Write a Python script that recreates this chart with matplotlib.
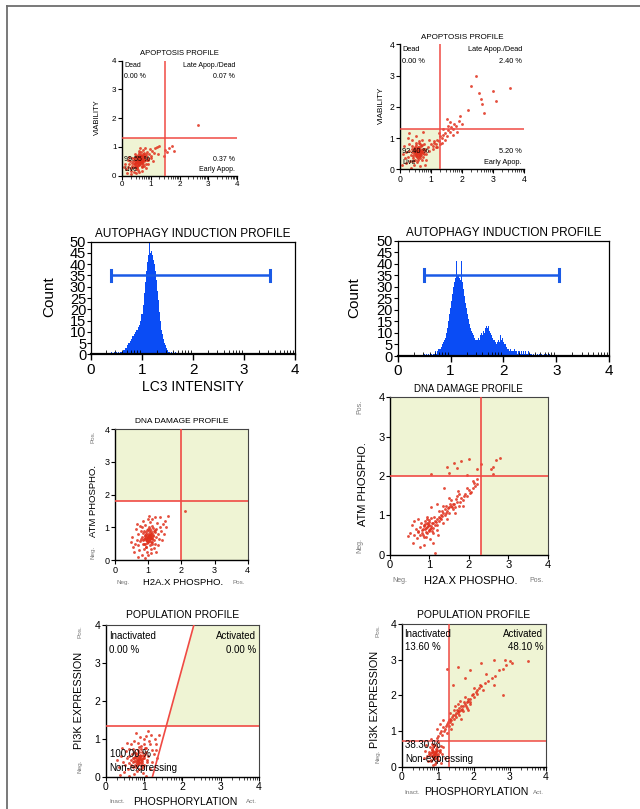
import matplotlib
matplotlib.use('Agg')
import matplotlib.pyplot as plt
import numpy as np
from matplotlib.patches import Polygon, Rectangle
from matplotlib.lines import Line2D

plt.rcParams['font.family'] = ['Liberation Sans', 'DejaVu Sans']

# ---------------- DATA ----------------
# Apoptosis profile (left)
apo1_x = [0.60,0.55,0.65,0.70,0.50,0.62,0.58,0.72,0.45,0.68,0.52,0.63,0.75,0.48,0.57,0.66,0.80,0.40,0.53,0.77,
          0.85,0.35,0.44,0.61,0.90,0.30,0.47,0.72,0.95,0.38,0.25,0.55,0.82,0.68,0.88,0.42,1.00,0.20,0.33,0.78,
          0.92,0.50,0.65,1.05,0.15,0.28,0.60,0.85,1.10,0.40,0.73,0.97,0.22,0.35,0.12,0.45,1.15,0.80,0.58,1.02,
          0.18,0.30,0.50,0.70,0.90,1.20,0.08,0.25,0.62,1.08,0.54,0.64,0.59,0.67,0.49,0.71,0.56,0.74,0.46,0.81,
          0.58,0.62,0.66,0.52,0.56,0.70,0.74,0.48,0.64,0.60,0.68,0.54,0.78,0.44,0.72,0.50,0.57,0.63,0.69,0.61,
          0.36,0.42,0.86,0.83,0.76,0.66,0.53,0.47,0.59,0.71,
          1.50,1.58,1.62,1.75,1.80,1.45,2.65,1.30,1.25]
apo1_y = [0.50,0.45,0.55,0.52,0.48,0.40,0.60,0.62,0.42,0.45,0.55,0.63,0.58,0.35,0.38,0.68,0.65,0.40,0.30,0.50,
          0.70,0.35,0.52,0.72,0.62,0.28,0.25,0.75,0.75,0.50,0.40,0.20,0.42,0.30,0.82,0.62,0.70,0.30,0.18,0.35,
          0.55,0.68,0.82,0.85,0.22,0.50,0.12,0.28,0.80,0.12,0.88,0.92,0.55,0.62,0.40,0.75,0.95,0.95,0.85,0.60,
          0.10,0.05,0.08,0.18,0.40,1.00,0.30,0.65,0.95,0.50,0.52,0.48,0.57,0.60,0.43,0.57,0.65,0.69,0.58,0.56,
          0.47,0.53,0.50,0.50,0.42,0.48,0.55,0.47,0.60,0.38,0.68,0.62,0.72,0.45,0.40,0.33,0.73,0.55,0.52,0.45,
          0.45,0.30,0.55,0.75,0.78,0.72,0.27,0.65,0.78,0.35,
          0.90,0.82,0.95,1.05,0.85,0.70,1.75,1.02,0.75]
apo1_gate = (1.5, 1.3)
apo1_labels = ["Dead", "0.00 %", "Late Apop./Dead", "0.07 %", "99.55 %", "Live", "0.37 %", "Early Apop."]

# Apoptosis profile (right)
apo2_x = [0.55,0.60,0.50,0.65,0.45,0.58,0.52,0.68,0.62,0.40,0.70,0.48,0.35,0.75,0.57,0.42,0.80,0.30,0.64,0.50,
          0.85,0.25,0.72,0.38,0.90,0.20,0.55,0.78,0.33,0.95,0.15,0.60,0.45,1.00,0.10,0.28,0.85,0.70,0.18,1.05,
          0.40,0.65,0.92,0.08,0.25,1.10,0.80,0.12,0.50,0.35,0.53,0.61,0.57,0.47,0.66,0.54,0.63,0.44,0.72,0.58,
          0.52,0.59,0.63,0.49,0.56,0.67,0.71,0.46,0.60,0.55,0.64,0.51,0.74,0.43,0.69,0.48,0.58,0.62,0.66,0.53,
          0.38,0.41,0.82,0.79,0.73,0.61,0.50,0.45,0.57,0.70,
          0.75,0.30,1.15,
          1.05,1.10,1.15,1.20,1.25,1.30,1.35,1.40,1.45,1.50,1.55,1.60,1.65,1.70,1.75,1.80,1.85,1.90,1.40,1.55,
          1.25,1.60,1.70,1.35,2.00,1.95,1.50,1.20,1.30,1.45,
          2.45,2.30,2.55,3.00,3.10,3.55,2.65,2.70,2.20,2.60]
apo2_y = [0.55,0.50,0.60,0.58,0.48,0.65,0.42,0.45,0.70,0.55,0.62,0.70,0.45,0.52,0.35,0.35,0.65,0.60,0.80,0.78,
          0.50,0.40,0.30,0.75,0.72,0.55,0.22,0.82,0.25,0.60,0.35,0.92,0.15,0.80,0.50,0.80,0.30,0.95,0.20,0.65,
          0.95,0.10,0.95,0.15,1.00,0.90,0.15,0.75,1.05,0.05,0.53,0.57,0.47,0.57,0.66,0.62,0.42,0.63,0.56,0.58,
          0.50,0.52,0.48,0.62,0.40,0.52,0.60,0.55,0.62,0.68,0.36,0.45,0.66,0.43,0.75,0.30,0.72,0.44,0.56,0.58,
          0.65,0.28,0.58,0.48,0.40,0.85,0.85,0.68,0.30,0.78,
          1.20,1.15,0.70,
          0.75,0.85,0.80,0.95,0.90,1.05,1.00,1.10,1.15,1.05,1.25,1.20,1.35,1.30,1.45,1.40,1.20,1.55,1.30,1.40,
          1.15,1.50,1.10,0.85,1.45,1.70,1.60,0.70,0.80,0.95,
          3.00,2.65,2.45,2.50,2.20,2.60,2.10,1.80,1.90,2.25]
apo2_gate = (1.3, 1.3)
apo2_labels = ["Dead", "0.00 %", "Late Apop./Dead", "2.40 %", "92.40 %", "Live", "5.20 %", "Early Apop."]

# Autophagy histograms (LC3 intensity), bin width 0.02
hist_width = 0.02
hist1_start = 0.40
hist1_counts = [1,0,0,1,0,1,0,1,0,1,
                1,1,2,2,3,3,4,5,5,6,
                7,8,8,9,10,11,11,12,13,15,
                18,22,27,32,37,41,44,52,45,46,
                44,42,40,37,33,28,24,19,15,11,
                9,7,5,4,3,2,1,1,0,1,
                0,1,0,1,0,0]
hist1_marker = (0.40, 3.50, 35)
hist2_start = 0.40
hist2_counts = [0,0,0,0,0,
                1,0,1,0,1,0,1,1,0,1,
                1,2,1,2,3,3,4,5,6,7,
                8,10,12,15,18,21,24,27,30,32,
                34,41,35,34,33,41,32,29,26,23,
                21,18,16,14,12,11,10,9,8,7,
                7,8,7,9,10,9,11,10,12,13,
                12,13,11,10,9,8,7,6,5,6,
                7,6,9,7,8,6,5,5,4,3,
                3,2,3,2,2,3,2,2,1,2,
                2,1,2,1,2,1,2,1,1,2,
                1,1,0,1,0,1,0,1,0,1,
                0,1,0,0,1,0,1,0,1,0,
                0]
hist2_marker = (0.50, 3.05, 35)

# DNA damage (left)
dna1_x = [1.00,0.95,1.05,1.10,0.90,1.02,0.98,1.12,0.85,1.08,0.92,1.03,1.15,0.88,0.97,1.06,1.20,0.80,0.93,1.17,
          1.25,0.75,0.84,1.01,1.30,0.70,0.87,1.12,1.35,0.78,0.65,0.95,1.22,1.08,1.28,0.82,1.40,0.60,0.73,1.18,
          1.32,0.90,1.05,1.45,0.55,0.68,1.00,1.25,1.50,0.80,1.13,1.37,0.62,0.75,0.52,0.85,1.55,1.20,0.98,1.42,
          0.58,0.70,0.90,1.10,1.30,1.60,0.48,0.65,1.02,1.48,0.99,1.04,0.96,1.07,0.94,1.09,1.01,0.93,1.13,0.97,
          0.98,1.03,1.07,0.91,0.96,1.11,1.14,0.89,1.04,0.99,1.09,0.94,1.18,0.86,1.13,0.90,0.97,1.05,1.10,1.01,
          0.78,0.83,1.24,1.21,1.16,1.06,0.93,0.87,0.99,1.12,
          2.12]
dna1_y = [0.70,0.65,0.75,0.68,0.72,0.60,0.80,0.82,0.62,0.55,0.85,0.88,0.72,0.50,0.52,0.95,0.85,0.70,0.40,0.60,
          0.95,0.58,0.82,1.00,0.80,0.45,0.35,1.05,1.00,0.90,0.62,0.25,0.48,0.35,1.12,1.00,0.90,0.50,0.30,0.38,
          0.65,1.08,1.15,1.10,0.40,0.80,0.15,0.25,1.20,0.15,1.25,1.30,0.95,1.05,0.70,1.20,1.00,1.30,1.25,0.60,
          0.25,0.10,0.05,0.20,0.45,1.35,0.55,1.10,1.35,0.80,0.69,0.72,0.74,0.66,0.61,0.78,0.77,0.68,0.64,0.58,
          0.66,0.73,0.70,0.75,0.60,0.68,0.76,0.67,0.82,0.55,0.88,0.78,0.90,0.63,0.55,0.50,0.92,0.64,0.72,0.58,
          0.65,0.48,0.70,0.92,0.98,0.45,0.40,0.88,0.95,0.50,
          1.50]
dna1_gate = (2.0, 1.8)

# DNA damage (right)
dna2_x = [0.95,0.90,1.00,1.05,0.85,0.98,0.93,1.10,0.80,1.08,0.88,1.00,1.15,0.83,0.75,1.20,0.70,1.12,0.78,0.65,
          0.60,1.25,0.92,1.18,0.72,0.55,1.02,1.30,0.68,0.50,1.08,1.15,0.85,0.62,0.45,1.22,0.75,0.95,1.35,0.58,
          0.92,0.97,1.02,0.87,0.91,1.05,1.10,0.83,1.00,0.95,1.03,0.89,1.13,0.80,1.07,0.86,0.93,0.99,1.06,0.96,
          0.72,0.77,1.20,1.17,1.24,1.28,1.33,1.43,1.48,1.58,1.63,1.68,1.78,1.88,2.02,2.12,1.52,1.42,1.32,1.72,
          1.30,1.35,1.40,1.40,1.45,1.50,1.50,1.55,1.60,1.60,1.65,1.70,1.75,1.80,1.85,1.90,1.95,2.00,2.05,2.10,
          2.15,2.20,2.20,2.10,1.95,1.70,1.55,1.45,1.25,1.35,1.65,1.85,1.75,1.50,1.38,1.05,1.20,
          1.05,1.45,1.50,1.70,1.80,1.95,2.00,2.20,2.30,2.55,2.60,2.70,2.80,2.62,1.62]
dna2_y = [0.70,0.65,0.75,0.68,0.72,0.60,0.80,0.80,0.62,0.55,0.85,0.88,0.75,0.50,0.70,0.90,0.58,0.95,0.80,0.65,
          0.50,0.85,0.45,0.62,0.90,0.75,0.40,1.00,0.42,0.55,0.30,0.05,0.25,0.85,0.48,0.50,0.20,0.95,0.80,0.30,
          0.68,0.72,0.65,0.75,0.58,0.72,0.68,0.66,0.82,0.55,0.92,0.78,0.85,0.55,0.60,0.45,0.90,0.62,0.80,0.78,
          0.60,0.50,0.75,0.82,0.95,0.92,1.12,1.05,1.18,1.22,1.28,1.42,1.35,1.48,1.58,1.82,1.30,1.25,0.98,1.62,
          0.90,1.05,1.00,1.15,1.10,1.20,1.05,1.25,1.15,1.30,1.20,1.35,1.25,1.45,1.40,1.55,1.50,1.65,1.60,1.70,
          1.75,1.80,1.92,1.88,1.70,1.50,1.40,0.90,1.10,1.25,1.05,1.25,1.55,1.45,1.70,1.20,1.30,
          2.05,2.22,2.08,2.20,2.38,2.02,2.42,2.18,2.30,2.18,2.22,2.40,2.45,2.05,2.32]
dna2_gate = (2.3, 2.0)

# Population profile (left)
pop1_x = [0.85,0.80,0.90,0.95,0.75,0.88,0.83,0.98,0.70,0.93,0.78,0.87,1.00,0.72,0.65,1.05,0.60,1.02,0.68,0.55,
          0.50,1.10,0.82,1.08,0.62,0.45,0.92,1.15,0.58,0.40,0.98,1.05,0.75,0.52,0.35,1.12,0.65,0.85,1.20,0.48,
          1.00,1.18,1.10,0.90,0.75,1.25,1.30,0.42,0.55,1.22,1.35,0.38,0.62,0.95,1.15,0.30,1.05,0.80,1.28,0.70,
          0.84,0.89,0.82,0.92,0.86,0.79,0.91,0.76,0.97,0.81,
          0.83,0.88,0.92,0.77,0.81,0.96,1.00,0.73,0.90,0.85,0.94,0.79,1.03,0.70,0.97,0.76,0.83,0.89,0.95,0.86,
          0.62,0.67,1.08,1.06,1.00,0.93,0.80,0.74,0.87,1.01,
          1.40,1.32]
pop1_y = [0.45,0.40,0.50,0.42,0.48,0.35,0.55,0.58,0.38,0.30,0.62,0.65,0.48,0.25,0.45,0.65,0.35,0.75,0.60,0.50,
          0.30,0.55,0.15,0.38,0.72,0.40,0.80,0.85,0.20,0.55,0.10,0.02,0.08,0.68,0.25,0.95,0.85,0.90,0.70,0.12,
          1.00,1.10,1.20,1.05,0.95,0.60,0.85,0.75,0.90,0.40,0.50,0.05,0.02,0.22,0.20,0.45,1.08,1.15,1.00,0.72,
          0.44,0.47,0.50,0.40,0.38,0.45,0.55,0.52,0.50,0.32,
          0.42,0.48,0.45,0.52,0.36,0.46,0.55,0.42,0.58,0.33,0.65,0.60,0.60,0.50,0.28,0.30,0.70,0.55,0.35,0.20,
          0.55,0.30,0.45,0.75,0.85,0.72,0.25,0.65,0.78,0.32,
          1.10,0.70]
pop1_hgate = 1.33
pop1_diag = ((1.22, 0.0), (2.30, 4.0))
pop1_labels = ["Inactivated", "0.00 %", "Activated", "0.00 %", "100.00 %", "Non-expressing"]

# Population profile (right)
pop2_x = [0.90,0.85,0.95,0.88,0.82,0.93,0.98,0.80,1.00,0.87,0.75,1.05,0.92,0.78,0.95,1.08,0.70,1.12,0.83,0.65,
          1.02,0.72,0.88,1.15,0.68,1.20,0.98,0.80,1.10,0.62,0.90,0.86,0.94,0.89,0.84,0.96,
          0.88,0.92,0.96,0.83,0.86,1.00,1.04,0.79,0.94,0.90,0.98,0.84,1.07,0.76,1.02,0.81,0.87,0.93,0.99,0.91,
          1.18,1.22,1.28,1.33,1.37,1.43,1.48,1.53,1.58,1.63,1.68,1.73,1.78,1.83,1.88,1.98,2.08,2.18,1.47,1.57,
          1.00,1.05,1.10,1.15,1.12,1.20,1.25,1.30,1.30,1.35,1.40,1.40,1.45,1.50,1.50,1.55,1.60,1.60,1.65,1.70,
          1.70,1.75,1.80,1.80,1.85,1.90,1.90,1.95,2.00,2.05,2.10,2.15,2.20,2.25,2.30,2.40,2.50,2.60,2.70,2.80,
          2.90,3.00,1.35,1.55,1.45,1.65,1.75,1.85,2.00,1.25,1.15,1.05,0.98,1.38,1.62,2.35,2.55,
          3.50,2.80,1.25,1.55,1.90,2.20,2.55,2.85,3.05,1.75,1.42]
pop2_y = [0.35,0.30,0.40,0.45,0.38,0.25,0.48,0.20,0.30,0.55,0.40,0.42,0.60,0.55,0.12,0.58,0.30,0.35,0.65,0.45,
          0.70,0.15,0.05,0.55,0.62,0.25,0.80,0.78,0.10,0.25,0.33,0.42,0.36,0.28,0.48,0.45,
          0.32,0.38,0.33,0.42,0.27,0.37,0.45,0.32,0.50,0.22,0.55,0.50,0.48,0.35,0.18,0.15,0.60,0.42,0.25,0.08,
          1.00,1.15,1.25,1.35,1.30,1.45,1.45,1.60,1.55,1.70,1.62,1.80,1.70,1.90,1.82,2.05,2.15,2.30,1.70,1.50,
          0.85,0.95,1.00,1.10,0.90,1.05,1.20,1.15,1.30,1.25,1.40,1.20,1.35,1.50,1.40,1.55,1.45,1.65,1.60,1.70,
          1.55,1.75,1.80,1.65,1.85,1.90,1.75,2.00,1.95,2.10,2.05,2.20,2.25,2.15,2.35,2.40,2.50,2.55,2.70,2.75,
          2.85,2.95,1.50,1.75,1.60,1.35,1.95,1.60,2.20,0.95,1.30,1.20,1.05,1.05,1.85,2.60,2.30,
          2.95,2.00,2.75,2.80,2.70,2.90,3.00,3.00,2.90,2.50,2.30]
pop2_gate = (1.3, 0.72)
pop2_labels = ["Inactivated", "13.60 %", "Activated", "48.10 %", "38.30 %", "Non-expressing"]

# ---------------- STYLE ----------------
RED = '#f04a44'
DOT = '#e0301c'
FILL = '#eff4d4'
BLUE = '#0a4cf5'
BAR = '#1a5ae6'
GRAYTXT = '#777777'
DOT_S = 4.2

W, H = 640, 809
fig = plt.figure(figsize=(6.4, 8.09), dpi=100)

def rect(x0, x1, ytop, ybot):
    return [x0 / W, 1 - ybot / H, (x1 - x0) / W, (ybot - ytop) / H]

# page border
fig.add_artist(Line2D([6.5 / W, 6.5 / W], [0, 1 - 6 / H], transform=fig.transFigure, color='#6e6e6e', lw=1.3))
fig.add_artist(Line2D([6.5 / W, 1], [1 - 6 / H, 1 - 6 / H], transform=fig.transFigure, color='#6e6e6e', lw=1.3))

log_minor = [i + np.log10(k) for i in range(4) for k in range(2, 10)]

def base_axes(r, fs, box=True, minor=True, tl=3):
    ax = fig.add_axes(r)
    ax.set_xlim(0, 4)
    ax.set_ylim(0, 4)
    ax.set_xticks([0, 1, 2, 3, 4])
    ax.set_yticks([0, 1, 2, 3, 4])
    ax.tick_params(labelsize=fs, length=tl, width=0.8, pad=1)
    if minor:
        ax.set_xticks(log_minor, minor=True)
        ax.tick_params(axis='x', which='minor', length=2, width=0.5)
    for s in ['top', 'right']:
        ax.spines[s].set_visible(box)
        ax.spines[s].set_color('#444444')
    for s in ['left', 'bottom']:
        ax.spines[s].set_linewidth(1.0)
    return ax

def apoptosis(r, xs, ys, gate, labels, fs, tfs, title_dy, ylab_x):
    ax = base_axes(r, fs, box=False)
    gx, gy = gate
    ax.add_patch(Rectangle((0, 0), gx, gy, facecolor=FILL, edgecolor='none', zorder=0))
    ax.scatter(xs, ys, s=DOT_S, color=DOT, linewidths=0, alpha=0.85, zorder=2)
    ax.axvline(gx, color=RED, lw=1.1, zorder=3)
    ax.axhline(gy, color=RED, lw=1.1, zorder=3)
    ax.text(0.07, 3.82, labels[0], fontsize=tfs, va='center')
    ax.text(0.07, 3.45, labels[1], fontsize=tfs, va='center')
    ax.text(3.93, 3.82, labels[2], fontsize=tfs, va='center', ha='right')
    ax.text(3.93, 3.45, labels[3], fontsize=tfs, va='center', ha='right')
    ax.text(0.07, 0.58, labels[4], fontsize=tfs, va='center', zorder=4)
    ax.text(0.07, 0.22, labels[5], fontsize=tfs, va='center', zorder=4)
    ax.text(3.93, 0.58, labels[6], fontsize=tfs, va='center', ha='right')
    ax.text(3.93, 0.22, labels[7], fontsize=tfs, va='center', ha='right')
    ax.text(0.5, 1.0 + title_dy, "APOPTOSIS PROFILE", transform=ax.transAxes, ha='center', va='center', fontsize=tfs + 0.5)
    ax.text(ylab_x, 0.51, "VIABILITY", transform=ax.transAxes, rotation=90, ha='center', va='center', fontsize=tfs + 0.5)
    return ax

apoptosis(rect(122, 237, 60.7, 175.7), apo1_x, apo1_y, apo1_gate, apo1_labels, 5.8, 5.0, 0.06, -0.21)
apoptosis(rect(400, 524, 44.3, 169.3), apo2_x, apo2_y, apo2_gate, apo2_labels, 6.2, 5.3, 0.055, -0.15)

def histogram(r, start, counts, marker, xlabel):
    ax = fig.add_axes(r)
    centers = start + hist_width * np.arange(len(counts))
    ax.bar(centers, counts, width=hist_width, color=BLUE, linewidth=0, align='center')
    ax.set_xlim(0, 4)
    ax.set_ylim(0, 50)
    ax.set_xticks([0, 1, 2, 3, 4])
    ax.set_yticks(range(0, 51, 5))
    ax.set_xticks(log_minor, minor=True)
    ax.tick_params(axis='x', which='minor', length=3, width=0.6, direction='in')
    ax.tick_params(axis='x', which='major', labelsize=11, length=4, width=1, pad=2)
    ax.tick_params(axis='y', labelsize=10.5, length=3, width=0.8, pad=0.5)
    ax.spines['bottom'].set_linewidth(1.6)
    for s in ['top', 'right', 'left']:
        ax.spines[s].set_linewidth(0.9)
    x0, x1, yv = marker
    ax.plot([x0, x1], [yv, yv], color=BAR, lw=1.8, solid_capstyle='butt')
    ax.plot([x0, x0], [yv - 2.6, yv + 2.6], color=BAR, lw=2.2)
    ax.plot([x1, x1], [yv - 2.6, yv + 2.6], color=BAR, lw=2.2)
    ax.text(0.5, 1.07, "AUTOPHAGY INDUCTION PROFILE", transform=ax.transAxes, ha='center', va='center', fontsize=8.5)
    ax.text(-0.205, 0.51, "Count", transform=ax.transAxes, rotation=90, ha='center', va='center', fontsize=11)
    if xlabel:
        ax.text(0.5, -0.29, xlabel, transform=ax.transAxes, ha='center', va='center', fontsize=10)
    return ax

histogram(rect(91, 295, 241.7, 354.3), hist1_start, hist1_counts, hist1_marker, "LC3 INTENSITY")
histogram(rect(397.7, 609.3, 240.7, 356), hist2_start, hist2_counts, hist2_marker, None)

def dna(r, xs, ys, gate, fs, tfs, lfs, sfs, title_dy, ylab_x, xlab_y, posneg_x):
    ax = base_axes(r, fs, box=True, minor=False)
    gx, gy = gate
    ax.set_facecolor(FILL)
    ax.add_patch(Rectangle((0, 0), gx, gy, facecolor='white', edgecolor='none', zorder=0))
    ax.scatter(xs, ys, s=DOT_S, color=DOT, linewidths=0, alpha=0.85, zorder=2)
    ax.axvline(gx, color=RED, lw=1.2, zorder=3)
    ax.axhline(gy, color=RED, lw=1.2, zorder=3)
    ax.text(0.5, 1.0 + title_dy, "DNA DAMAGE PROFILE", transform=ax.transAxes, ha='center', va='center', fontsize=tfs)
    ax.text(ylab_x, 0.45, "ATM PHOSPHO.", transform=ax.transAxes, rotation=90, ha='center', va='center', fontsize=lfs)
    ax.text(0.51, xlab_y, "H2A.X PHOSPHO.", transform=ax.transAxes, ha='center', va='center', fontsize=lfs)
    ax.text(posneg_x, 0.94, "Pos.", transform=ax.transAxes, rotation=90, ha='center', va='center', fontsize=sfs, color=GRAYTXT)
    ax.text(posneg_x, 0.06, "Neg.", transform=ax.transAxes, rotation=90, ha='center', va='center', fontsize=sfs, color=GRAYTXT)
    ax.text(0.06, xlab_y, "Neg.", transform=ax.transAxes, ha='center', va='center', fontsize=sfs, color=GRAYTXT)
    ax.text(0.93, xlab_y, "Pos.", transform=ax.transAxes, ha='center', va='center', fontsize=sfs, color=GRAYTXT)
    return ax

dna(rect(115, 247.7, 429, 560), dna1_x, dna1_y, dna1_gate, 6.5, 6.0, 6.8, 4.5, 0.06, -0.165, -0.175, -0.165)
dna(rect(390, 547.7, 397.3, 554.7), dna2_x, dna2_y, dna2_gate, 8.0, 7.0, 8.0, 5.0, 0.055, -0.17, -0.165, -0.19)

def population(r, xs, ys, fs, tfs, qfs, ylab_x, ylab_y, xlab_y, labels, kind, gate):
    ax = base_axes(r, fs, box=True, minor=True)
    if kind == 'diag':
        hy = gate[0]
        (ax0, ay0), (ax1, ay1) = gate[1]
        slope = (ax1 - ax0) / (ay1 - ay0)
        xc = ax0 + slope * (hy - ay0)
        ax.add_patch(Polygon([(xc, hy), (4, hy), (4, 4), (ax1, ay1)], closed=True,
                             facecolor=FILL, edgecolor='none', zorder=0))
        ax.plot([ax0, ax1], [ay0, ay1], color=RED, lw=1.2, zorder=3)
        ax.axhline(hy, color=RED, lw=1.2, zorder=3)
    else:
        gx, gy = gate
        ax.add_patch(Rectangle((gx, gy), 4 - gx, 4 - gy, facecolor=FILL, edgecolor='none', zorder=0))
        ax.axvline(gx, color=RED, lw=1.1, zorder=3)
        ax.axhline(gy, color=RED, lw=1.1, zorder=3)
    ax.scatter(xs, ys, s=DOT_S, color=DOT, linewidths=0, alpha=0.85, zorder=2)
    ax.text(0.08, 3.72, labels[0], fontsize=qfs, va='center')
    ax.text(0.08, 3.35, labels[1], fontsize=qfs, va='center')
    ax.text(3.93, 3.72, labels[2], fontsize=qfs, va='center', ha='right')
    ax.text(3.93, 3.35, labels[3], fontsize=qfs, va='center', ha='right')
    ax.text(0.10, 0.60, labels[4], fontsize=qfs, va='center', zorder=4)
    ax.text(0.10, 0.22, labels[5], fontsize=qfs, va='center', zorder=4)
    ax.text(0.5, 1.065, "POPULATION PROFILE", transform=ax.transAxes, ha='center', va='center', fontsize=tfs)
    ax.text(ylab_x, ylab_y, "PI3K EXPRESSION", transform=ax.transAxes, rotation=90, ha='center', va='center', fontsize=7.8)
    ax.text(0.52, xlab_y, "PHOSPHORYLATION", transform=ax.transAxes, ha='center', va='center', fontsize=7.6)
    ax.text(-0.165, 0.955, "Pos.", transform=ax.transAxes, rotation=90, ha='center', va='center', fontsize=4.6, color=GRAYTXT)
    ax.text(-0.165, 0.07, "Neg.", transform=ax.transAxes, rotation=90, ha='center', va='center', fontsize=4.6, color=GRAYTXT)
    ax.text(0.075, xlab_y, "Inact.", transform=ax.transAxes, ha='center', va='center', fontsize=4.6, color=GRAYTXT)
    ax.text(0.95, xlab_y, "Act.", transform=ax.transAxes, ha='center', va='center', fontsize=4.6, color=GRAYTXT)
    return ax

population(rect(105.7, 259, 625, 776.7), pop1_x, pop1_y, 7.5, 7.5, 7.0, -0.175, 0.505, -0.165,
           pop1_labels, 'diag', (pop1_hgate, pop1_diag))
population(rect(401.7, 546, 624, 766.7), pop2_x, pop2_y, 7.5, 7.5, 7.0, -0.185, 0.47, -0.18,
           pop2_labels, 'rect', pop2_gate)

fig.savefig('out.png', dpi=100)
